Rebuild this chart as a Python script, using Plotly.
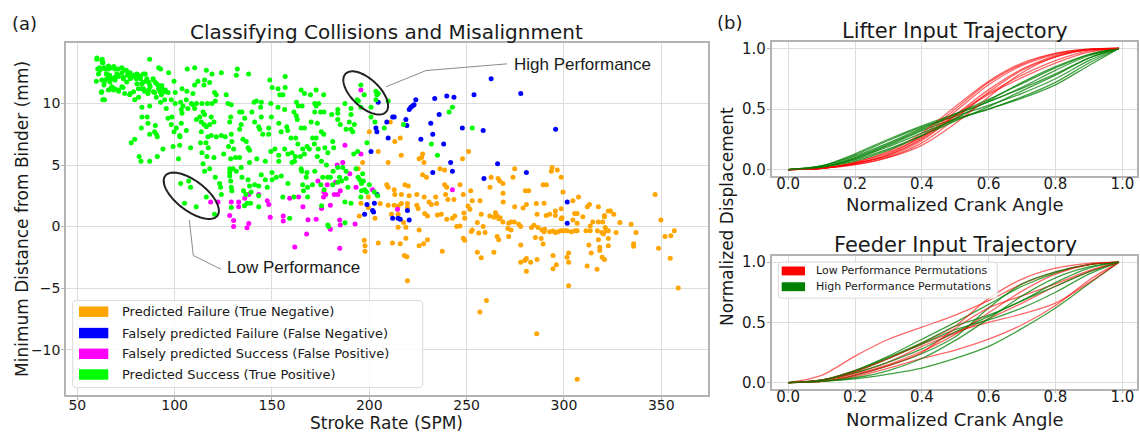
import numpy as np
import plotly.graph_objects as go

W, H = 1140, 434

# ---------------- scatter data (Stroke Rate [SPM], Min distance [mm]) ----------------
true_negative = [  # orange: Predicted Failure (True Negative)
    (200,7.7),(210.8,8.5),(213.1,6.9),(215.9,7.2),(204.6,6.1),(216.4,5.8),(209.7,5.2),(196.6,5.2),(194.3,4.7),
    (227.4,5.9),(226.9,5.6),(225.6,5.5),(228.1,5.2),(236.3,4.7),(238.7,4.6),(247.9,5.5),(251,6.1),(227.4,4.2),
    (229.4,4.0),(238.7,3.4),(239.8,3.2),(246.6,3.4),(252.1,2.9),(262,3.2),(262.6,4.0),(209,3.4),(209.7,3.2),
    (212.8,3.0),(218.3,3.4),(220,3.3),(220.5,2.5),(216.5,2.6),(213.1,2.6),(224.4,2.6),(228.2,2.4),(234.1,2.4),
    (239.2,2.6),(240.4,2.2),(243.5,2.2),(248.3,2.6),(252.9,2.1),(256.9,2.1),(199.5,2.4),
    (274.7,4.7),(273.8,4.0),(293.9,4.8),(293.5,4.5),(296.6,4.6),(298.6,4.0),(266.2,3.9),(267,3.7),(268.7,3.5),
    (289.3,3.4),(291,3.4),(280.2,2.9),(281.9,2.9),(268.7,2.7),(299.5,2.8),(304.6,2.1),(307.5,2.4),(346.8,2.6),
    (195.7,1.9),(194.9,0.86),(199.5,1.55),(202.9,0.67),(205.6,1.87),(209.7,1.74),(212.8,1.74),(214.8,1.66),
    (216.5,1.87),(219.6,1.87),(219.6,1.55),(211.4,1.0),(214.8,1.0),(217.6,0.32),(214.8,-0.05),(218.8,-0.05),
    (225.6,-0.27),(197.4,-1.12),(197.8,-1.55),(197.8,-2.0),(204.6,-1.34),(211.9,-1.34),(215.9,-1.4),(218.8,-0.94),
    (225.6,-1.55),(227.9,-1.4),(229.9,-1.07),(218,-2.35),(219.3,-2.46),(219.6,-4.4),(237.5,-2.0),(224.4,1.74),
    (225.1,1.47),(228.5,1.07),(229.9,0.86),(230.7,2.0),(231.9,1.8),(234.6,1.87),(235,0.94),(237,1.0),(239.8,0.59),
    (242.7,0.67),(243.9,0.86),(244.9,0.0),(246.6,0.05),(248.6,1.1),(249,0.67),(248.3,-0.94),(249,-1.12),
    (250.7,1.66),(251.7,1.4),(252.4,-0.4),(252.9,-0.27),(255.5,0.32),(257.5,1.0),(258.5,0.0),(256.2,-0.53),
    (259.5,-0.48),(255.5,-2.08),(257.5,-2.54),(261.9,0.86),(264,0.75),(264,-2.08),(260.2,-6.0),(256.8,-6.95),
    (268.8,2.0),(274.7,1.6),(279,1.5),(280.7,1.8),(285.8,1.87),(289.8,1.9),(286.2,1.0),(290.9,0.9),(292.7,1.0),
    (295.6,1.26),(295.6,0.9),(298.6,1.44),(299,0.72),(298.6,0.64),(264.8,1.12),(265.5,0.9),(266.5,0.64),
    (267.2,0.72),(268.6,0.37),(271.6,0.27),(272.8,0.37),(274.5,0.37),(276.8,0.19),(277.8,0.0),(271.2,-0.16),
    (272.8,-0.27),(283.3,-0.08),(284.6,0.1),(286.7,-0.08),(288.7,-0.27),(290.1,-0.21),(289.8,-0.43),(292.7,-0.43),
    (294.4,-0.37),(295.6,-0.48),(297,-0.43),(298.3,-0.35),(299.5,-0.35),(300.7,-0.35),(301.7,-0.35),(303.8,-0.43),
    (305.8,-0.35),(306.8,-0.35),(305.5,1.07),(306.8,1.07),(304.6,0.53),(306.8,0.27),(309.7,0.8),(312,1.6),
    (313.1,1.8),(317.7,1.6),(314.8,0.37),(313.5,0.05),(311.3,-0.35),(313.5,-0.35),(317.7,0.37),(319.9,0.37),
    (320.8,0.9),(320.8,0.8),(322.8,1.26),(323.9,1.26),(325.6,1.0),(321.2,-0.08),(321.7,-0.35),(319.4,-0.48),
    (320.3,-0.6),(322.8,-0.35),(317.2,-0.35),(317.7,-1.07),(322.8,-0.96),(322.8,-1.55),(318.4,-1.68),(318.4,-1.95),
    (319.6,-2.5),(320.8,-2.67),(326.8,-0.48),(328.7,0.32),(334.5,0.19),(337,-0.48),(335.8,-1.4),(335.8,-1.6),
    (312.8,-1.5),(314,-2.14),(311.9,-3.2),(317,-3.47),(302.4,-2.14),(301.6,-2.49),(302.4,-2.89),(302.4,-4.8),
    (294.4,-2.35),(296.1,-3.1),(294.4,-3.42),(286.2,-2.67),(289.3,-1.42),(288.3,-0.96),(285.3,-0.88),(277.8,-1.5),
    (277.8,-2.89),(279.9,-2.75),(280.7,-2.6),(282.9,-2.89),(280.7,-3.64),(271.6,-0.8),(265.7,-0.8),(266.5,-1.07),
    (349.8,0.53),(348.6,-1.76),(351.9,-0.8),(354.9,-0.75),(356.7,-0.35),(354.6,-2.57),(358.7,-5.0),(286,-8.7),
    (306.8,-12.4),
]

false_negative = [  # blue: Falsely predicted Failure (False Negative)
    (204.6,10.1),(223.9,10.3),(220.5,9.5),(221.3,9.7),(222.2,9.8),(223,9.9),(233.6,10.4),(239.8,10.6),(243.5,10.5),
    (253.8,10.7),(262.6,12.0),(212,8.9),(212.8,8.9),(209,8.5),(203.4,8.0),(203.9,7.7),(218.8,8.7),(219.3,8.2),
    (231.6,8.4),(235.9,9.1),(232.6,7.5),(247.8,8.0),(258.5,7.8),(209.7,7.2),(200.9,6.1),(226.5,7.1),(238.2,6.7),
    (241.8,5.2),(242.7,4.5),(232.6,4.4),(258.9,3.9),(204,2.6),(198.8,1.8),(202.6,1.9),(197.6,1.0),(201.7,1.3),
    (219.6,1.3),(277.8,10.8),(295.7,7.9),(265.9,5.1),(280.7,4.4),(301.7,2.0),(301.7,0.27),(212,0.67),(214.8,0.67),
    (215.9,0.59),(220.5,0.53),(202.2,1.19),
]

false_positive = [  # magenta: Falsely predicted Success (False Positive)
    (118.5,2.0),(122.3,2.0),(129.1,2.0),(132.9,2.0),(136,2.3),(138.1,2.6),(143.2,2.6),(147.6,2.1),(148.4,1.8),
    (132.9,1.6),(128.3,0.9),(130.3,0.5),(130.3,0.0),(137.2,-0.1),(138.1,0.25),(149.1,0.75),
    (195.7,11.1),(187.5,6.6),(195.7,5.9),(183.5,5.0),(186.4,5.2),(190,4.3),(173.6,3.7),(178.4,3.4),(182.7,3.6),
    (193.2,3.2),(176.7,2.8),(177.6,2.6),(182,2.6),(183.8,2.6),(185.1,2.9),(176.5,2.4),(201.7,3.0),(159.1,2.3),
    (163.7,2.4),(242.7,3.0),(165.9,1.6),(180,1.74),(175.5,1.47),(155.8,0.86),(155.8,0.46),(168.5,0.55),
    (172.7,0.59),(184.8,0.53),(185.1,0.13),(192.7,0.21),(180,-0.21),(167.8,-0.6),(161.7,-1.66),(184.8,-1.77),
    (214.5,1.4),
]

true_positive = [  # green: Predicted Success (True Positive)
    (60.1,13.7),(62.8,13.6),(63.2,13.3),(87.2,13.6),(61.5,12.9),(63.7,12.9),(66.1,12.8),(68.8,13.0),(70.9,12.8),
    (72.9,12.9),(75.2,12.7),(77.1,12.5),(79.5,12.3),(81.5,12.3),(84.9,12.4),(91.8,12.9),(92.8,12.8),(96.9,12.5),
    (106.5,12.8),(110.3,12.9),(116.3,12.7),(119.2,12.4),(124,12.5),(132.2,12.8),(131.7,12.3),(138,12.4),
    (64.9,12.4),(66.6,12.3),(65.4,12.0),(67.5,12.0),(69.2,12.1),(70.9,12.3),(73.5,12.1),(75.7,12.3),(77.7,12.1),
    (80.3,12.0),(82.5,12.0),(83.7,11.7),(85.4,11.8),(87.2,11.5),(88.9,12.0),(90.1,11.7),(91.4,11.5),(93.5,11.2),
    (95.2,11.1),(96.6,10.9),(99.7,11.8),(100.3,10.9),(103.8,11.2),(106.3,11.0),(109.4,10.8),(110.3,11.5),
    (112,11.8),(115.4,11.9),(115.1,11.5),(118,11.7),(120.5,10.9),(121.4,10.7),(59.8,11.8),(63.7,11.5),(64,11.8),
    (62.3,10.9),(67.1,11.2),(69.2,11.2),(71.2,11.0),(73.5,11.3),(74.3,10.8),(76.9,10.7),(79.5,10.3),(81.5,10.5),
    (82.9,11.2),(84.6,11.0),(86.3,10.8),(89.7,10.9),(90.6,10.5),(93.2,10.7),(94.9,10.3),(64,10.3),(87.2,9.8),
    (92.8,10.1),(95.7,9.6),(98.3,10.3),(100.3,10.0),(103.1,10.1),(104.3,9.8),(106,10.3),(108.6,10.0),(111.2,10.0),
    (114,10.0),(116.8,10.0),(119.2,10.0),(120.9,10.2),(126.5,10.7),(127.4,10.0),(129.1,9.9),
    (83.2,9.7),(83.2,8.9),(85.9,8.9),(86.3,8.4),(90.1,8.2),(89.7,7.7),(82.9,8.0),(87.2,7.5),(90.6,7.5),(91.1,7.3),
    (79.5,7.1),(77.7,6.8),(81.8,5.7),(82.7,5.3),(87.2,5.3),(91.1,5.7),(94,6.3),(96.6,8.8),(98.6,8.9),(98.3,8.3),
    (100.9,8.0),(99.7,7.7),(102.7,7.3),(99.2,6.5),(102.6,6.6),(103.4,9.5),(103.8,9.2),(103.4,8.4),(102.6,7.4),
    (106,7.8),(102,5.5),(108.2,6.4),(106.8,9.6),(109.4,9.9),(110.3,9.6),(111.2,8.7),(112.9,8.9),(113.7,8.5),
    (114.6,9.3),(115.4,9.1),(115.1,8.3),(113.7,7.7),(116.3,8.1),(118,8.3),(118.8,8.9),(120.2,8.5),(117.1,7.3),
    (118.8,7.4),(121.4,7.3),(124,7.4),(116.1,6.8),(113.3,6.8),(117.3,6.4),(114,6.0),(116.6,5.7),(120.2,5.6),
    (125.2,5.9),(126,7.3),(128.3,8.5),(128.8,8.9),(129.1,7.5),(129.4,6.9),(127.7,6.5),(130.3,6.3),(131.3,5.6),
    (128.8,5.5),(133.4,5.6),(133.4,9.3),(134.6,9.3),(136,8.8),(134.2,8.3),(133.4,7.9),(135.1,7.1),(136.8,6.9),
    (137.7,6.4),(138.5,6.2),(139.7,9.3),(140.8,10.1),(142,10.2),(144.5,10.1),(141.1,8.5),(143.2,8.1),(143.7,7.9),
    (144.5,8.9),(145.3,7.5),(148.3,8.0),(148.3,7.5),(149.7,8.9),(153.5,8.4),(154.7,7.7),(148.9,11.9),(150.1,11.3),
    (154,10.7),(153.1,11.2),(144.2,9.7),(149.4,10.0),(153.1,9.7),(149.4,6.1),(151.5,6.3),(153.5,5.8),(142.2,5.5),
    (138.5,5.2),(146.6,5.3),(153.5,5.3),(144.5,4.2),(150,4.4),(152.2,4.0),
    (114.6,5.1),(115.4,4.5),(118,4.7),(120.9,4.0),(123.1,3.5),(123.6,3.2),(124,2.6),(128.3,4.7),(128.3,4.4),
    (128.3,4.1),(130,4.7),(131.7,4.5),(134.2,4.8),(134.6,4.0),(137.7,3.8),(138.5,3.3),(141.1,3.4),(143.2,3.3),
    (128.8,3.7),(129.1,3.2),(129.4,2.9),(135.4,2.9),(136.6,2.6),(139.3,2.8),(143.2,2.5),(146.6,3.8),(150.1,3.8),
    (147.6,3.2),(137.2,1.9),(143.2,1.6),(154.8,4.1),
    (103.1,3.5),(107.2,3.7),(108.2,3.2),(105.1,1.9),(111.1,1.6),(116.3,2.4),(120.5,1.0),
    (129.1,1.55),(135.9,1.7),(139,1.9),
    (156.8,12.2),(156.8,11.3),(155.6,10.7),(165,11.1),(166.7,10.8),(169.8,10.7),(172.7,11.1),(176.6,10.7),
    (162.6,10.1),(163.5,9.8),(165.5,9.8),(172,10.0),(172.7,9.8),(174,10.0),(156.5,9.5),(161.3,9.3),(162.5,9.0),
    (163,8.7),(165,8.0),(166.7,8.0),(170.1,8.5),(172,9.3),(175,9.3),(176.7,9.3),(173.3,8.4),(175.4,7.7),
    (180.7,9.1),(183.8,9.5),(183.8,9.2),(183.8,8.7),(185.1,8.3),(187.5,10.0),(190.6,9.6),(190.6,9.1),(189.7,8.5),
    (190.6,7.9),(191.5,7.7),(192.3,8.3),(193.7,10.3),(195.7,9.7),(157.6,8.1),(158.1,7.8),(159.8,7.2),(162.2,7.2),
    (163.3,6.7),(165.8,6.3),(168,6.5),(169.2,6.3),(170.9,7.2),(172.7,7.2),(171.8,6.7),(173.8,6.3),(177.2,6.4),
    (178.7,6.0),(176.6,7.5),(181.2,6.9),(181.7,6.4),(188.1,7.9),(192,5.9),(194,6.1),(198.8,6.8),(200.9,8.9),
    (202.9,8.5),(156.5,6.3),(158.2,5.9),(160.3,6.0),(162,5.7),(160.3,5.2),(161.6,5.3),(164.6,5.7),(166.7,5.9),
    (173.3,5.7),(175.4,5.3),(178,5.0),(181.4,4.5),(183.8,4.8),(186.4,4.8),(188.1,4.5),(193.2,4.7),(196.6,4.3),
    (165,4.7),(165.3,4.5),(168,4.4),(167.6,4.0),(172,4.5),(176.1,4.0),(178.6,4.0),(180,4.0),(184.7,4.0),
    (158.2,3.5),(165.8,3.4),(166.2,2.9),(168.3,3.2),(170.8,3.4),(175.1,3.4),(176.8,3.0),(181.2,3.4),(183.8,3.6),
    (185.8,3.7),(188.1,3.9),(189,3.2),(194.2,4.0),(195.1,3.8),(196,3.5),(197.7,3.0),(198.6,2.8),(200,3.4),
    (197,3.7),(202.6,2.8),(204.3,2.5),(155.6,2.4),(161.3,2.4),(168.3,2.4),(175.5,1.7),(196,2.9),(195.7,2.4),
    (195.7,11.5),(197.4,10.7),(203.4,11.0),(203.9,10.7),(204.6,10.8),(203.4,10.3),(209.7,10.2),(194.4,10.2),
    (200.9,9.7),(207.7,8.0),(217.6,8.3),(241,9.3),(242.7,9.7),(252.9,8.0),(231.9,6.7),(235,5.8),
    (159.1,0.67),(178.7,0.13),(179,0.0),(187.5,2.0),(190.6,1.9),(187.5,0.3),
    (60.0,13.6),(62.6,13.5),(62.9,13.3),(60.5,12.8),(61.6,12.7),(64.2,12.8),(66,13.05),(67.7,12.9),(69.4,12.8),
    (65.1,12.4),(66,12.2),(64.2,11.9),(66.8,11.75),(69.4,11.9),(70.3,12.4),(71.1,12.2),(72.9,12.5),(74.6,12.7),
    (76.3,12.4),(73.7,12.0),(75.4,11.75),(77.2,12.0),(78.9,12.3),(80.6,12.4),(82.3,12.2),(84,12.4),(85.7,12.0),
    (83.1,11.6),(86.6,11.75),(87.4,11.35),(89.1,11.9),(90.8,11.6),(91.7,11.2),(93.4,11.45),(95.1,10.95),
    (62.6,10.95),(66,11.1),(68.6,11.1),(71.1,11.1),(77.2,10.8),(78.9,10.95),(81.4,11.2),(84,11.2),(86.6,11.1),
    (89.1,10.95),(92.5,10.95),(62.6,11.9),(60.9,12.4),(63.1,10.3),(67.7,11.35),(72.9,11.35),(80.6,11.6),
]

scatter_series = [
    ("Predicted Failure (True Negative)", "#FFA500", true_negative),
    ("Falsely predicted Failure (False Negative)", "#0000FF", false_negative),
    ("Falsely predicted Success (False Positive)", "#FF00FF", false_positive),
    ("Predicted Success (True Positive)", "#00FF00", true_positive),
]

x_ticks_a = [50, 100, 150, 200, 250, 300, 350]
y_ticks_a = [-10, -5, 0, 5, 10]

# ---------------- trajectory data ----------------
crank_angle = [0.0, 0.1, 0.2, 0.3, 0.4, 0.5, 0.6, 0.7, 0.8, 0.9, 0.99]

lifter_low = [
    [0, 0.01, 0.05, 0.13, 0.28, 0.50, 0.72, 0.87, 0.96, 0.995, 1.0],
    [0, 0.01, 0.05, 0.12, 0.25, 0.45, 0.66, 0.83, 0.94, 0.99, 1.0],
    [0, 0.01, 0.06, 0.14, 0.27, 0.45, 0.63, 0.78, 0.90, 0.98, 1.0],
    [0, 0.01, 0.04, 0.10, 0.22, 0.42, 0.64, 0.82, 0.93, 0.99, 1.0],
    [0, 0.01, 0.05, 0.11, 0.24, 0.44, 0.62, 0.76, 0.88, 0.97, 1.0],
    [0, 0.01, 0.06, 0.15, 0.30, 0.52, 0.73, 0.88, 0.96, 0.995, 1.0],
    [0, 0.01, 0.04, 0.10, 0.20, 0.38, 0.60, 0.80, 0.93, 0.99, 1.0],
    [0, 0.01, 0.05, 0.12, 0.26, 0.48, 0.70, 0.86, 0.95, 0.99, 1.0],
]
lifter_high = [
    [0, 0.02, 0.09, 0.20, 0.32, 0.42, 0.50, 0.60, 0.72, 0.88, 1.0],
    [0, 0.03, 0.12, 0.24, 0.35, 0.44, 0.53, 0.63, 0.75, 0.90, 1.0],
    [0, 0.02, 0.10, 0.21, 0.33, 0.45, 0.56, 0.67, 0.79, 0.92, 1.0],
    [0, 0.03, 0.13, 0.25, 0.36, 0.46, 0.56, 0.68, 0.82, 0.94, 1.0],
    [0, 0.02, 0.08, 0.17, 0.28, 0.40, 0.52, 0.65, 0.78, 0.92, 1.0],
    [0, 0.02, 0.07, 0.16, 0.28, 0.42, 0.57, 0.72, 0.85, 0.95, 1.0],
    [0, 0.03, 0.11, 0.22, 0.34, 0.46, 0.58, 0.71, 0.84, 0.95, 1.0],
    [0, 0.02, 0.09, 0.19, 0.30, 0.41, 0.50, 0.59, 0.70, 0.86, 1.0],
]
feeder_low = [
    [0, 0.06, 0.22, 0.36, 0.46, 0.56, 0.68, 0.82, 0.92, 0.98, 1.0],
    [0, 0.02, 0.08, 0.17, 0.30, 0.41, 0.53, 0.66, 0.80, 0.92, 1.0],
    [0, 0.02, 0.10, 0.20, 0.32, 0.42, 0.50, 0.57, 0.66, 0.83, 1.0],
    [0, 0.01, 0.05, 0.12, 0.20, 0.27, 0.36, 0.48, 0.64, 0.85, 1.0],
    [0, 0.02, 0.07, 0.15, 0.26, 0.40, 0.58, 0.76, 0.90, 0.98, 1.0],
    [0, 0.01, 0.06, 0.14, 0.25, 0.45, 0.62, 0.72, 0.82, 0.93, 1.0],
    [0, 0.02, 0.09, 0.20, 0.33, 0.47, 0.70, 0.86, 0.95, 0.99, 1.0],
]
feeder_high = [
    [0, 0.01, 0.03, 0.07, 0.12, 0.20, 0.30, 0.45, 0.62, 0.82, 1.0],
    [0, 0.02, 0.10, 0.22, 0.36, 0.50, 0.65, 0.80, 0.91, 0.98, 1.0],
    [0, 0.02, 0.08, 0.17, 0.28, 0.42, 0.55, 0.68, 0.80, 0.92, 1.0],
    [0, 0.01, 0.06, 0.14, 0.24, 0.38, 0.62, 0.82, 0.92, 0.98, 1.0],
    [0, 0.02, 0.09, 0.20, 0.32, 0.44, 0.52, 0.62, 0.75, 0.90, 1.0],
    [0, 0.01, 0.04, 0.10, 0.20, 0.35, 0.53, 0.72, 0.87, 0.96, 1.0],
    [0, 0.02, 0.10, 0.21, 0.33, 0.47, 0.56, 0.68, 0.83, 0.95, 1.0],
]
traj_x_ticks = [0.0, 0.2, 0.4, 0.6, 0.8, 1.0]
traj_y_ticks = [0.0, 0.5, 1.0]

LOW_COLOR = "rgba(255,0,0,0.6)"
HIGH_COLOR = "rgba(0,128,0,0.75)"

# ---------------- helpers (layout in pixel space -> paper) ----------------
def PX(x):
    return x / W

def PY(y):
    return 1 - y / H

FONT = "DejaVu Sans"
TXT = "#1a1a1a"

fig = go.Figure()

for name, color, pts in scatter_series:
    fig.add_trace(go.Scatter(
        x=[p[0] for p in pts], y=[p[1] for p in pts], mode="markers", name=name,
        marker=dict(size=5, color=color, line=dict(width=0)),
        xaxis="x", yaxis="y", showlegend=False, hoverinfo="skip"))

for lows, highs, xa, ya in [(lifter_low, lifter_high, "x2", "y2"), (feeder_low, feeder_high, "x3", "y3")]:
    for i in range(max(len(lows), len(highs))):
        for group, col in ((lows, LOW_COLOR), (highs, HIGH_COLOR)):
            if i < len(group):
                fig.add_trace(go.Scatter(
                    x=crank_angle, y=group[i], mode="lines",
                    line=dict(color=col, width=1.3, shape="spline", smoothing=0.9),
                    xaxis=xa, yaxis=ya, showlegend=False, hoverinfo="skip"))

axis_common = dict(showgrid=True, gridcolor="#dcdcdc", gridwidth=1, zeroline=False,
                   showline=True, linecolor="#b3b3b3", linewidth=1.5, mirror=True,
                   ticks="outside", ticklen=3, tickcolor="#b3b3b3",
                   tickfont=dict(family=FONT, size=14, color=TXT))

traj_font = dict(family=FONT, size=15, color=TXT)

fig.update_layout(
    width=W, height=H, margin=dict(l=0, r=0, t=0, b=0),
    paper_bgcolor="white", plot_bgcolor="white", hovermode=False,
    xaxis=dict(axis_common, ticklabelstandoff=-7, domain=[PX(66), PX(708)], range=[44.2, 374],
               tickvals=x_ticks_a, anchor="y"),
    yaxis=dict(axis_common, ticklabelstandoff=-2, domain=[PY(397.7), PY(40.7)], range=[-13.7, 14.9],
               tickvals=y_ticks_a, anchor="x"),
    xaxis2=dict(axis_common, ticklabelstandoff=-9, domain=[PX(771.5), PX(1137)], range=[-0.05, 1.044],
                tickvals=traj_x_ticks, tickformat=".1f", anchor="y2", tickfont=traj_font),
    yaxis2=dict(axis_common, ticklabelstandoff=-2, domain=[PY(175), PY(40)], range=[-0.05, 1.05],
                tickvals=traj_y_ticks, tickformat=".1f", anchor="x2", tickfont=traj_font),
    xaxis3=dict(axis_common, ticklabelstandoff=-9, domain=[PX(771.5), PX(1137)], range=[-0.05, 1.044],
                tickvals=traj_x_ticks, tickformat=".1f", anchor="y3", tickfont=traj_font),
    yaxis3=dict(axis_common, ticklabelstandoff=-2, domain=[PY(391), PY(256.7)], range=[-0.05, 1.05],
                tickvals=traj_y_ticks, tickformat=".1f", anchor="x3", tickfont=traj_font),
)

shapes = []
annotations = []

def ann(text, x, y, size, xanchor="center", yanchor="middle", family=FONT, angle=0):
    annotations.append(dict(text=text, x=PX(x), y=PY(y), xref="paper", yref="paper",
                            xanchor=xanchor, yanchor=yanchor, showarrow=False, textangle=angle,
                            font=dict(family=family, size=size, color=TXT)))

def ellipse(cx, cy, a, b, ang_deg):
    t = np.linspace(0, 2 * np.pi, 90)
    ca, sa = np.cos(np.radians(ang_deg)), np.sin(np.radians(ang_deg))
    xs = cx + a * np.cos(t) * ca - b * np.sin(t) * sa
    ys = cy + a * np.cos(t) * sa + b * np.sin(t) * ca
    path = "M " + " L ".join(f"{PX(x):.5f},{PY(y):.5f}" for x, y in zip(xs, ys)) + " Z"
    shapes.append(dict(type="path", path=path, xref="paper", yref="paper",
                       line=dict(color="#222222", width=2)))

def polyline(pts, color="#8c8c8c", width=1):
    path = "M " + " L ".join(f"{PX(x):.5f},{PY(y):.5f}" for x, y in pts)
    shapes.append(dict(type="path", path=path, xref="paper", yref="paper",
                       line=dict(color=color, width=width)))

def rrect(x0, y0, x1, y1, r, fill, line):
    def p(x, y):
        return f"{PX(x):.5f},{PY(y):.5f}"
    path = (f"M {p(x0 + r, y0)} L {p(x1 - r, y0)} Q {p(x1, y0)} {p(x1, y0 + r)} "
            f"L {p(x1, y1 - r)} Q {p(x1, y1)} {p(x1 - r, y1)} L {p(x0 + r, y1)} "
            f"Q {p(x0, y1)} {p(x0, y1 - r)} L {p(x0, y0 + r)} Q {p(x0, y0)} {p(x0 + r, y0)} Z")
    shapes.append(dict(type="path", path=path, xref="paper", yref="paper",
                       fillcolor=fill, line=dict(color=line, width=1)))

def patch(x0, y0, x1, y1, color):
    shapes.append(dict(type="rect", x0=PX(x0), x1=PX(x1), y0=PY(y1), y1=PY(y0),
                       xref="paper", yref="paper", fillcolor=color, line=dict(width=0)))

# panel labels and titles
ann("(a)", 24, 21, 18)
ann("(b)", 729, 20, 18)
ann("Classifying Collisions and Misalignment", 386.5, 29, 20)
ann("Lifter Input Trajectory", 955, 28, 21)
ann("Feeder Input Trajectory", 955, 245, 21)

# axis titles
ann("Stroke Rate (SPM)", 386, 426, 17)
ann("Minimum Distance from Binder (mm)", 22, 219, 17, angle=-90)
ann("Normalized Crank Angle", 955, 204, 18)
ann("Normalized Crank Angle", 955, 422, 18)
ann("Normalized Displacement", 727, 217, 17, angle=-90)

# performance call-outs
ellipse(365.7, 91.2, 28, 14, 44)
ellipse(191.3, 195.5, 33, 15, 38)
polyline([(386, 85), (426, 68.5), (507, 61.7)])
polyline([(189.3, 220), (193.3, 256), (221, 270)])
ann("High Performance", 512, 62, 17, xanchor="left", family="Liberation Sans, Arial")
ann("Low Performance", 225, 268, 17, xanchor="left", family="Liberation Sans, Arial")

# legend (a)
rrect(72.7, 301.7, 422.7, 390, 4, "rgba(255,255,255,0.85)", "#d9d9d9")
rows_a = [313, 334.7, 355.7, 376.7]
for (name, color, _), yy in zip(scatter_series, rows_a):
    patch(79, yy - 5.3, 108.3, yy + 5.3, color)
    ann(name, 120, yy, 13, xanchor="left")

# legend (b)
rrect(778.3, 262.7, 997.3, 299.3, 3, "rgba(255,255,255,0.85)", "#d9d9d9")
legend_b = [("Low Performance Permutations", "#FF0000", 271.7),
            ("High Performance Permutations", "#008000", 287.7)]
for name, color, yy in legend_b:
    patch(781.7, yy - 4.5, 805, yy + 4.5, color)
    ann(name, 814, yy, 11, xanchor="left")

fig.update_layout(shapes=shapes, annotations=annotations)

fig.write_html("out.html", config={"displayModeBar": False})
